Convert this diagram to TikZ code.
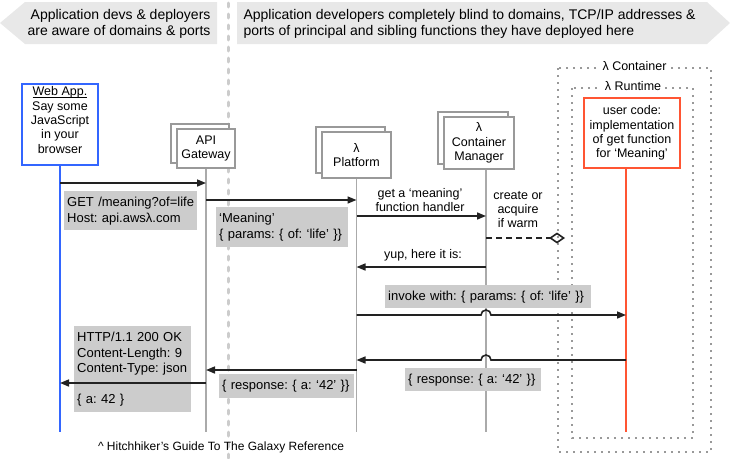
\documentclass[tikz,border=0pt]{standalone}
\usepackage{fontspec}
\setmainfont{Liberation Sans}
\usetikzlibrary{arrows.meta,shadows}
\frenchspacing
\definecolor{bannergray}{HTML}{E8E8E8}
\definecolor{notegray}{HTML}{CCCCCC}
\definecolor{boxgray}{HTML}{999999}
\definecolor{lifegray}{HTML}{AAAAAA}
\definecolor{webblue}{HTML}{3366FF}
\definecolor{codered}{HTML}{FF5533}
\definecolor{ink}{HTML}{222222}
\tikzset{
  actor/.style={draw=boxgray, line width=1.6pt, fill=white, align=center, inner sep=1pt,
    font=\fontsize{12.5}{14.3}\selectfont},
  stacked/.style={actor, copy shadow={shadow xshift=-6pt, shadow yshift=5pt}},
  note/.style={fill=notegray, anchor=north west, align=left, inner xsep=3pt, inner ysep=0pt,
    font=\fontsize{13}{16}\selectfont},
  remark/.style={align=center, font=\fontsize{12.5}{14}\selectfont},
  msg/.style={ink, line width=1.6pt, -{Triangle[length=9pt,width=7pt]}},
  lifeline/.style={lifegray, line width=1.6pt},
  enclosure/.style={boxgray, line width=1.5pt, dash pattern=on 2pt off 5pt},
}
\begin{document}
\begin{tikzpicture}[x=1pt, y=-1pt]
  \useasboundingbox (0,0) rectangle (730,458);

  % banners on top
  \fill[bannergray] (0,23) -- (25,2) -- (217,2) -- (217,44) -- (25,44) -- cycle;
  \fill[bannergray] (237,2) -- (707,2) -- (730,23) -- (707,44) -- (237,44) -- cycle;
  \node[align=right, anchor=east, font=\fontsize{14}{16.5}\selectfont] (aware) at (214,24)
    {Application devs \& deployers\\are aware of domains \& ports};
  \node[align=left, anchor=west, font=\fontsize{14}{16.5}\selectfont] (blind) at (240,24)
    {Application developers completely blind to domains, TCP/IP addresses \&\\ports of principal and sibling functions they have deployed here};
  \draw[lifegray!60, line width=3pt, line cap=round, dash pattern=on 4pt off 7pt] (228,3) -- (228,458);

  % container and runtime
  \draw[enclosure] (558,68) rectangle (711,452);
  \draw[enclosure] (572,88) rectangle (693,438);
  \node[fill=white, inner sep=3pt, font=\fontsize{12.5}{14}\selectfont] (container) at (634.5,66) {λ Container};
  \node[fill=white, inner sep=3pt, font=\fontsize{12.5}{14}\selectfont] (runtime) at (633,86) {λ Runtime};

  % actors
  \node[actor, draw=webblue, minimum width=76pt, minimum height=81pt] (web) at (60,124.5)
    {\underline{\smash{Web App.}}\\Say some\\JavaScript\\in your\\browser};
  \node[stacked, minimum width=58pt, minimum height=39pt] (api) at (206,148.5) {API\\Gateway};
  \node[stacked, minimum width=69pt, minimum height=46pt] (plat) at (356.5,155) {λ\\Platform};
  \node[stacked, minimum width=70pt, minimum height=52pt] (cm) at (479,143) {λ\\Container\\Manager};
  \node[actor, draw=codered, minimum width=96pt, minimum height=70pt] (code) at (632,133)
    {user code:\\implementation\\of get function\\for ‘Meaning’};
  \coordinate (cmtop) at ([xshift=7pt]cm.south);
  \coordinate (codetop) at ([xshift=-6pt]code.south);
  \coordinate (jumpL) at ([xshift=-5pt]cmtop);
  \coordinate (jumpR) at ([xshift=5pt]cmtop);
  \coordinate (warm) at (565,238);

  % lifelines
  \draw[webblue, line width=1.6pt] (web.south) -- (web.south |- 0,432);
  \draw[lifeline] (api.south) -- (api.south |- 0,432);
  \draw[lifeline] (plat.south) -- (plat.south |- 0,432);
  \draw[lifeline] (cmtop) -- (cmtop |- 0,432);
  \draw[codered, line width=1.6pt] (codetop) -- (codetop |- 0,432);

  % payloads
  \node[note, text width=127pt, minimum height=39pt] (get) at (64,191)
    {GET /meaning?of=life\\Host: api.awsλ.com};
  \node[note, text width=126pt, minimum height=40pt] (meaning) at (216,207)
    {‘Meaning’\\\{ params: \{ of: ‘life’ \}\}};
  \node[note, text width=200pt, minimum height=23pt] (invoke) at (385,285)
    {invoke with: \{ params: \{ of: ‘life’ \}\}};
  \node[note, text width=130pt, minimum height=23pt] (answer) at (405,368)
    {\{ response: \{ a: ‘42’ \}\}};
  \node[note, text width=129pt, minimum height=24pt] (reply) at (219,374)
    {\{ response: \{ a: ‘42’ \}\}};
  \node[note, text width=111pt, minimum height=86pt, font=\fontsize{13}{15.5}\selectfont] (http) at (74,326)
    {HTTP/1.1 200 OK\\Content-Length: 9\\Content-Type: json\\[15.5pt]\{ a: 42 \}};
  \node[remark] (handler) at (420,200) {get a ‘meaning’\\function handler};
  \node[remark] (create) at (518,210) {create or\\acquire\\if warm};
  \node[remark] (yup) at (423,255) {yup, here it is:};

  % messages
  \draw[msg] (web.south |- 0,183) -- (api.south |- 0,183);
  \draw[msg] (api.south |- 0,200) -- (plat.south |- 0,200);
  \draw[msg] (plat.south |- 0,216) -- (cmtop |- 0,216);
  \draw[ink, line width=1.6pt, dash pattern=on 6pt off 4pt, -{Diamond[open,length=16pt,width=11pt]}]
    (cmtop |- 0,238) -- (warm);
  \draw[msg] (cmtop |- 0,267) -- (plat.south |- 0,267);
  \draw[msg] (plat.south |- 0,315) -- (jumpL |- 0,315)
    arc[start angle=180, end angle=360, radius=5] -- (codetop |- 0,315);
  \draw[msg] (codetop |- 0,360) -- (jumpR |- 0,360)
    arc[start angle=0, end angle=-180, radius=5] -- (plat.south |- 0,360);
  \draw[msg] (plat.south |- 0,370) -- (api.south |- 0,370);
  \draw[msg] (api.south |- 0,383) -- (web.south |- 0,383);

  \node[font=\fontsize{12}{14}\selectfont] (hitchhiker) at (221,447)
    {\textasciicircum{} Hitchhiker’s Guide To The Galaxy Reference};
\end{tikzpicture}
\end{document}
